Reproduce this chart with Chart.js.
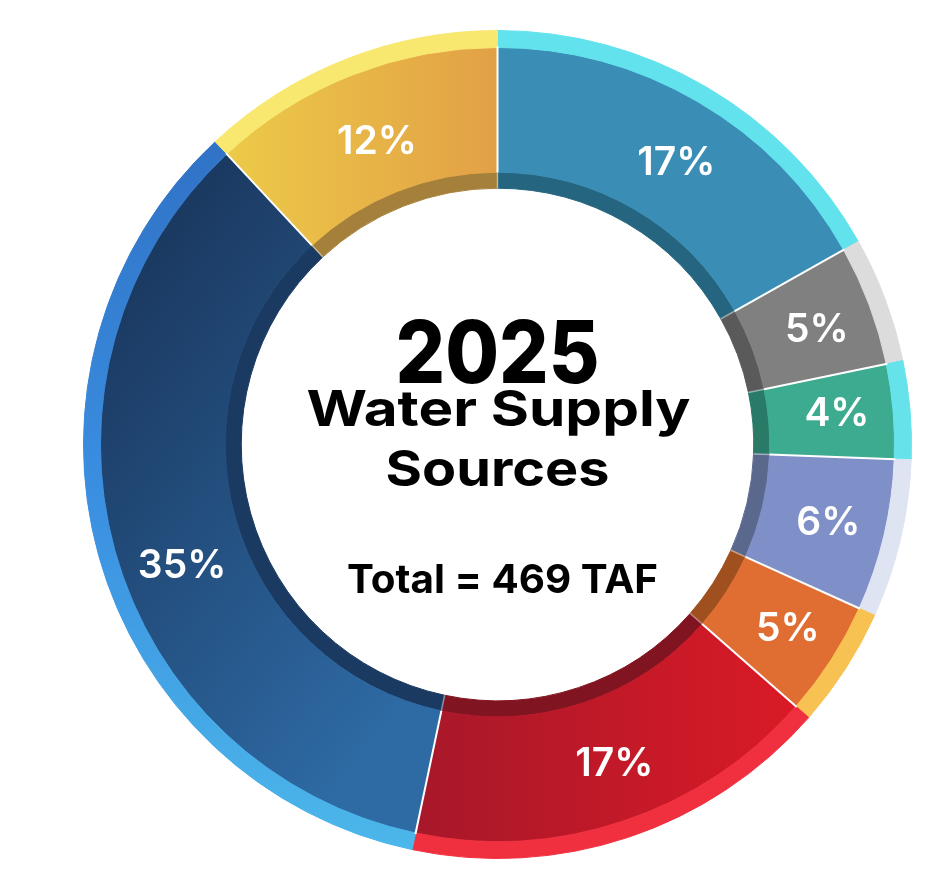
<!DOCTYPE html>
<html><head><meta charset="utf-8">
<script src="https://cdn.jsdelivr.net/npm/chart.js@4.4.1/dist/chart.umd.min.js"></script>
<style>html,body{margin:0;padding:0;background:#fff;}canvas{display:block}</style>
</head><body>
<canvas id="c" width="951" height="896"></canvas>
<script>
// ---- data ----
const categories = ['Source 1', 'Source 2', 'Source 3', 'Source 4', 'Source 5', 'Source 6', 'Source 7', 'Source 8'];
const values = [79, 23, 18, 29, 22, 79, 163, 56]; // TAF, total 469
const percentLabels = ['17%', '5%', '4%', '6%', '5%', '17%', '35%', '12%'];
const titleYear = '2025';
const titleLines = ['Water Supply', 'Sources'];
const totalLabel = 'Total = 469 TAF';

// ---- styles ----
const mainSolid = ['#3a8eb6', '#808080', '#3dab8f', '#7f90c8', '#e06e32', '#c81a28', '#24558a', '#e6b648'];
const mainGrad = [null, null, null, null, null,
  [-0.21, 0, 0.75, 0, ['#a6182a', '#dc1a26']],
  [-0.95, -0.3, -0.05, 0.4, ['#1b3a62', '#2e6aa4']],
  [-0.67, 0, 0, 0, ['#edcb48', '#e2a046']]];
const rimSolid = ['#62e2ec', '#dcdcdc', '#66e3ea', '#dfe4f2', '#f7c251', '#f0303f', '#3a8ee0', '#f8e870'];
const rimGrad = [null, null, null, null, null, null,
  [0, -0.8, 0, 1, ['#2f70c4', '#3a8ee0', '#4cb8ea']], null];
const bandSolid = ['#25657f', '#5a5a5a', '#2a7a68', '#5a688e', '#a0501f', '#801420', '#1a3a62', '#a5803a'];
// label nudges (px) relative to the arc's centre point
const labelNudge = [[10, 6], [6, 1], [6, -4], [5, 0], [9, 1], [11, 0], [7, 30], [2, 7]];

function makeFill(solid, grads) {
  return function (context) {
    const i = context.dataIndex;
    const chart = context.chart;
    const a = chart.chartArea;
    const g = grads ? grads[i] : null;
    if (!a || !g) return solid[i];
    const cx = (a.left + a.right) / 2, cy = (a.top + a.bottom) / 2;
    const R = Math.min(a.width, a.height) / 2;
    const lg = chart.ctx.createLinearGradient(cx + g[0] * R, cy + g[1] * R, cx + g[2] * R, cy + g[3] * R);
    g[4].forEach((c, k) => lg.addColorStop(k / (g[4].length - 1), c));
    return lg;
  };
}

const FONT = 'Inter, "Open Sans", "DejaVu Sans", sans-serif';

const separatorPlugin = {
  id: 'separators',
  afterDatasetsDraw(chart) {
    const ctx = chart.ctx;
    const main = chart.getDatasetMeta(1).data;
    const band = chart.getDatasetMeta(2).data;
    ctx.save();
    main.forEach((arc, i) => {
      const p = arc.getProps(['x', 'y', 'startAngle', 'innerRadius', 'outerRadius']);
      const b = band[i].getProps(['innerRadius', 'outerRadius']);
      const c = Math.cos(p.startAngle), s = Math.sin(p.startAngle);
      ctx.strokeStyle = 'rgba(255,255,255,0.45)';
      ctx.lineWidth = 1.5;
      ctx.beginPath();
      ctx.moveTo(p.x + c * b.innerRadius, p.y + s * b.innerRadius);
      ctx.lineTo(p.x + c * b.outerRadius, p.y + s * b.outerRadius);
      ctx.stroke();
      ctx.strokeStyle = '#ffffff';
      ctx.lineWidth = 2;
      ctx.beginPath();
      ctx.moveTo(p.x + c * p.innerRadius, p.y + s * p.innerRadius);
      ctx.lineTo(p.x + c * (p.outerRadius + 1), p.y + s * (p.outerRadius + 1));
      ctx.stroke();
    });
    // percent labels
    ctx.fillStyle = '#ffffff';
    ctx.textAlign = 'center';
    ctx.textBaseline = 'middle';
    ctx.font = '600 39px ' + FONT;
    main.forEach((arc, i) => {
      const pos = arc.tooltipPosition();
      ctx.fillText(percentLabels[i], pos.x + labelNudge[i][0], pos.y + 2 + labelNudge[i][1]);
    });
    ctx.restore();
  }
};

function drawFit(ctx, text, cx, baseline, size, weight, targetW) {
  ctx.font = weight + ' ' + size + 'px ' + FONT;
  const w = ctx.measureText(text).width;
  let sx = targetW / w;
  sx = Math.max(0.8, Math.min(1.3, sx));
  ctx.save();
  ctx.translate(cx, baseline);
  ctx.scale(sx, 1);
  ctx.fillText(text, 0, 0);
  ctx.restore();
}

const centerTextPlugin = {
  id: 'centerText',
  afterDraw(chart) {
    const ctx = chart.ctx;
    const a = chart.chartArea;
    const cx = (a.left + a.right) / 2;
    ctx.save();
    ctx.fillStyle = '#000000';
    ctx.textAlign = 'center';
    ctx.textBaseline = 'alphabetic';
    drawFit(ctx, titleYear, cx, 383, 86, 800, 204);
    drawFit(ctx, titleLines[0], cx + 1, 426, 50, 700, 384);
    drawFit(ctx, titleLines[1], cx, 486, 50, 700, 224);
    drawFit(ctx, totalLabel, cx + 5, 593, 40, 700, 311);
    ctx.restore();
  }
};

new Chart(document.getElementById('c'), {
  type: 'doughnut',
  data: {
    labels: categories,
    datasets: [
      { data: values, weight: 17, backgroundColor: makeFill(rimSolid, rimGrad), borderColor: makeFill(rimSolid, rimGrad), borderWidth: 1 },
      { data: values, weight: 125, backgroundColor: makeFill(mainSolid, mainGrad), borderColor: makeFill(mainSolid, mainGrad), borderWidth: 1 },
      { data: values, weight: 16, backgroundColor: makeFill(bandSolid, null), borderColor: makeFill(bandSolid, null), borderWidth: 1 }
    ]
  },
  options: {
    responsive: false,
    animation: false,
    devicePixelRatio: 1,
    cutout: '61.9%',
    rotation: 0,
    hoverOffset: 0,
    layout: { padding: { left: 83, right: 39, top: 30, bottom: 37 } },
    plugins: { legend: { display: false }, tooltip: { enabled: false } },
    events: []
  },
  plugins: [separatorPlugin, centerTextPlugin]
});
</script>
</body></html>
